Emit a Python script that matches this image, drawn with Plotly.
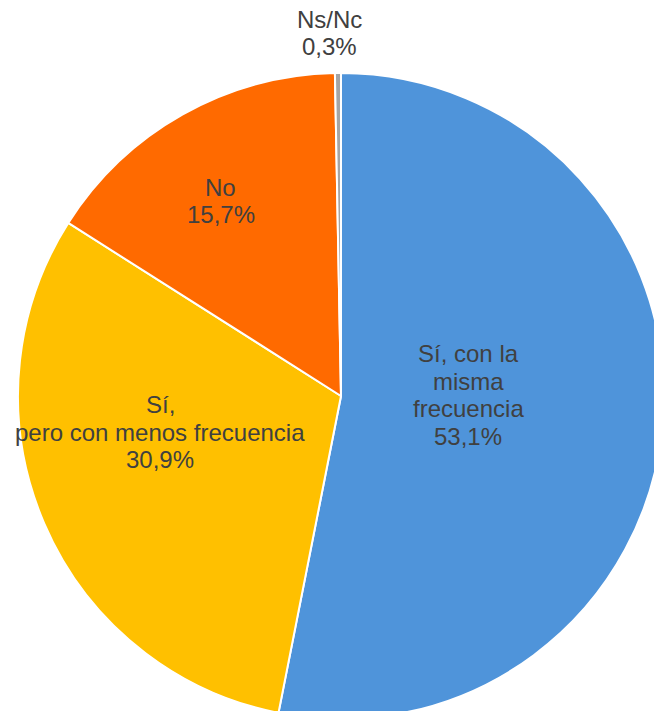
import plotly.graph_objects as go

labels = ["Sí, con la misma frecuencia", "Sí, pero con menos frecuencia", "No", "Ns/Nc"]
label_lines = [["Sí, con la", "misma", "frecuencia"], ["Sí,", "pero con menos frecuencia"], ["No"], ["Ns/Nc"]]
values = [53.1, 30.9, 15.7, 0.3]
colors = ["#4F94DA", "#FFC000", "#FF6A00", "#A5A5A5"]

# figure canvas is slightly larger than the window so the pie can be clipped at the right/bottom edges
W, H = 664, 719
cx, cy, R = 341, 396, 323

fig = go.Figure(go.Pie(
    labels=labels,
    values=values,
    sort=False,
    direction="clockwise",
    rotation=0,
    marker=dict(colors=colors, line=dict(color="white", width=2)),
    textinfo="none",
    hoverinfo="label+percent",
    domain=dict(x=[(cx - R) / W, (cx + R) / W], y=[(H - cy - R) / H, (H - cy + R) / H]),
    showlegend=False,
))

# label block centres (pixels from top-left)
label_pos = [(468, 395), (160, 432), (221, 201), (329, 33)]
line_gap = 27.5
font = dict(family="Liberation Sans, Arial, sans-serif", size=24, color="#404040")
for lines, v, (px, py) in zip(label_lines, values, label_pos):
    all_lines = lines + [str(v).replace('.', ',') + "%"]
    n = len(all_lines)
    for i, ln in enumerate(all_lines):
        y = py + (i - (n - 1) / 2) * line_gap
        fig.add_annotation(x=px / W, y=1 - y / H, xref="paper", yref="paper",
                           text=ln, showarrow=False, font=font, align="center",
                           xanchor="center", yanchor="middle")

fig.update_layout(width=W, height=H, margin=dict(l=0, r=0, t=0, b=0),
                  paper_bgcolor="white", plot_bgcolor="white")
fig.write_html("out.html",
               post_script="document.documentElement.style.overflow='hidden';document.body.style.overflow='hidden';")
